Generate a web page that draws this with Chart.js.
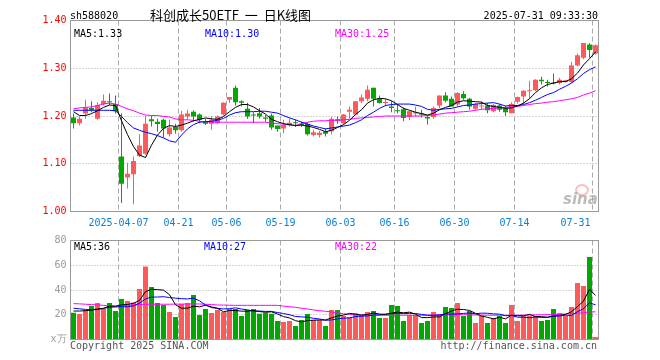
<!DOCTYPE html>
<html><head><meta charset="utf-8">
<script src="https://cdn.jsdelivr.net/npm/chart.js@4.4.1/dist/chart.umd.min.js"></script>
<style>
html,body{margin:0;padding:0;background:#fff;width:660px;height:360px;overflow:hidden;}
#wrap{position:relative;width:660px;height:360px;}
canvas{position:absolute;left:0;}
.t{position:absolute;font-family:"DejaVu Sans Mono",monospace;font-size:10px;line-height:12px;white-space:pre;}
</style></head><body>
<div id="wrap">
<canvas id="k" width="660" height="235" style="top:0"></canvas>
<canvas id="v" width="660" height="130" style="top:230px"></canvas>
<span class="t" style="left:70px;top:10px;color:#000">sh588020</span>
<span class="t" style="left:150px;top:7px;font:13px 'Noto Sans CJK SC';line-height:16px;color:#000">科创成长50ETF  一  日K线图</span>
<span class="t" style="right:62px;top:10px;color:#000">2025-07-31 09:33:30</span>
<span class="t" style="left:74px;top:28px;color:#000">MA5:1.33</span>
<span class="t" style="left:205px;top:28px;color:#0000ff">MA10:1.30</span>
<span class="t" style="left:335px;top:28px;color:#ff00ff">MA30:1.25</span>
<span class="t" style="left:74px;top:241px;color:#000">MA5:36</span>
<span class="t" style="left:204px;top:241px;color:#0000ff">MA10:27</span>
<span class="t" style="left:335px;top:241px;color:#ff00ff">MA30:22</span>
<span class="t" style="left:70px;top:340px;color:#555">Copyright 2025 SINA.COM</span>
<span class="t" style="right:63px;top:340px;color:#555">http://finance.sina.com.cn</span>
<div style="position:absolute;left:575px;top:184px;width:10px;height:8px;border:2px solid rgba(240,150,150,0.6);border-radius:50%;"></div>
<span class="t" style="left:563px;top:191px;font:italic bold 15px 'DejaVu Sans';line-height:16px;color:rgba(160,160,160,0.7)">sina</span>
</div>
<script>
const dates = [
'2025-03-25','2025-03-26','2025-03-27','2025-03-28','2025-03-31','2025-04-01','2025-04-02','2025-04-03',
'2025-04-07','2025-04-08','2025-04-09','2025-04-10','2025-04-11','2025-04-14','2025-04-15','2025-04-16','2025-04-17','2025-04-18',
'2025-04-21','2025-04-22','2025-04-23','2025-04-24','2025-04-25','2025-04-28','2025-04-29','2025-04-30',
'2025-05-06','2025-05-07','2025-05-08','2025-05-09','2025-05-12','2025-05-13','2025-05-14','2025-05-15','2025-05-16',
'2025-05-19','2025-05-20','2025-05-21','2025-05-22','2025-05-23','2025-05-26','2025-05-27','2025-05-28','2025-05-29','2025-05-30',
'2025-06-03','2025-06-04','2025-06-05','2025-06-06','2025-06-09','2025-06-10','2025-06-11','2025-06-12','2025-06-13',
'2025-06-16','2025-06-17','2025-06-18','2025-06-19','2025-06-20','2025-06-23','2025-06-24','2025-06-25','2025-06-26','2025-06-27',
'2025-06-30','2025-07-01','2025-07-02','2025-07-03','2025-07-04','2025-07-07','2025-07-08','2025-07-09','2025-07-10','2025-07-11',
'2025-07-14','2025-07-15','2025-07-16','2025-07-17','2025-07-18','2025-07-21','2025-07-22','2025-07-23','2025-07-24','2025-07-25',
'2025-07-28','2025-07-29','2025-07-30','2025-07-31'];

const tickIndex = [8,18,26,35,45,54,64,74,87];
const tickText = ['2025-04-07','04-21','05-06','05-19','06-03','06-16','06-30','07-14','07-31'];

const open = [1.197,1.185,1.205,1.217,1.194,1.225,1.231,1.225,1.115,1.071,
1.078,1.116,1.121,1.193,1.188,1.192,1.162,1.177,1.170,1.199,
1.209,1.203,1.188,1.184,1.185,1.203,1.234,1.259,1.231,1.215,
1.203,1.206,1.197,1.201,1.180,1.174,1.181,1.187,1.184,1.183,
1.160,1.160,1.167,1.168,1.193,1.185,1.209,1.203,1.231,1.236,
1.259,1.236,1.227,1.220,1.212,1.214,1.198,1.205,1.206,1.198,
1.198,1.222,1.243,1.236,1.224,1.246,1.236,1.215,1.220,1.222,
1.210,1.222,1.216,1.206,1.230,1.241,1.252,1.254,1.276,1.271,
1.270,1.269,1.271,1.271,1.306,1.322,1.350,1.331];
const close = [1.185,1.194,1.218,1.212,1.223,1.232,1.229,1.210,1.058,1.079,
1.106,1.138,1.184,1.189,1.183,1.174,1.176,1.170,1.203,1.205,
1.199,1.192,1.184,1.192,1.199,1.228,1.240,1.229,1.228,1.199,
1.201,1.199,1.194,1.176,1.173,1.181,1.186,1.185,1.181,1.162,
1.166,1.165,1.163,1.194,1.190,1.203,1.213,1.231,1.239,1.255,
1.236,1.227,1.229,1.217,1.210,1.196,1.210,1.208,1.203,1.195,
1.217,1.243,1.232,1.220,1.248,1.237,1.220,1.225,1.222,1.212,
1.223,1.213,1.208,1.225,1.240,1.253,1.254,1.276,1.273,1.269,
1.268,1.276,1.275,1.306,1.327,1.353,1.338,1.348];
const high = [1.205,1.199,1.234,1.231,1.229,1.245,1.247,1.243,1.205,1.102,
1.115,1.162,1.200,1.201,1.194,1.194,1.192,1.184,1.211,1.213,
1.212,1.205,1.194,1.200,1.201,1.229,1.240,1.264,1.233,1.228,
1.208,1.217,1.202,1.205,1.180,1.192,1.194,1.192,1.188,1.187,
1.171,1.169,1.174,1.198,1.199,1.204,1.220,1.231,1.245,1.264,
1.259,1.243,1.236,1.231,1.225,1.218,1.211,1.220,1.213,1.201,
1.220,1.243,1.250,1.241,1.250,1.252,1.238,1.227,1.231,1.227,
1.225,1.225,1.221,1.229,1.241,1.254,1.274,1.277,1.282,1.276,
1.289,1.280,1.276,1.313,1.331,1.353,1.353,1.350];
const low = [1.174,1.180,1.194,1.208,1.192,1.222,1.223,1.205,1.018,1.048,
1.015,1.114,1.119,1.178,1.167,1.155,1.157,1.163,1.167,1.192,
1.188,1.185,1.181,1.171,1.183,1.201,1.227,1.222,1.220,1.194,
1.185,1.195,1.188,1.171,1.167,1.164,1.178,1.177,1.177,1.159,
1.157,1.155,1.157,1.162,1.184,1.183,1.195,1.202,1.227,1.231,
1.220,1.226,1.220,1.208,1.205,1.189,1.191,1.199,1.197,1.182,
1.194,1.217,1.229,1.220,1.220,1.234,1.213,1.212,1.213,1.206,
1.208,1.209,1.200,1.206,1.226,1.225,1.236,1.252,1.266,1.262,
1.266,1.266,1.270,1.269,1.304,1.319,1.322,1.329];

const ma5 = [1.209,1.201,1.201,1.205,1.211,1.218,1.223,1.222,1.190,1.161,
1.136,1.118,1.113,1.139,1.160,1.174,1.180,1.178,1.181,1.185,
1.190,1.193,1.196,1.194,1.193,1.199,1.209,1.218,1.224,1.224,
1.219,1.211,1.204,1.193,1.188,1.184,1.182,1.180,1.181,1.179,
1.176,1.172,1.167,1.170,1.176,1.182,1.191,1.203,1.213,1.227,
1.234,1.237,1.236,1.232,1.224,1.216,1.212,1.208,1.205,1.202,
1.206,1.213,1.218,1.222,1.229,1.232,1.231,1.230,1.229,1.222,
1.220,1.218,1.216,1.217,1.221,1.227,1.236,1.249,1.259,1.266,
1.269,1.272,1.272,1.278,1.290,1.307,1.320,1.334];
const ma10 = [1.212,1.212,1.212,1.212,1.212,1.212,1.212,1.211,1.199,1.186,
1.175,1.170,1.166,1.163,1.159,1.154,1.148,1.145,1.160,1.173,
1.182,1.187,1.188,1.189,1.191,1.195,1.202,1.207,1.209,1.209,
1.209,1.210,1.210,1.208,1.206,1.201,1.196,1.192,1.187,1.183,
1.179,1.176,1.173,1.175,1.177,1.179,1.181,1.186,1.192,1.201,
1.208,1.216,1.222,1.224,1.225,1.225,1.225,1.223,1.220,1.214,
1.212,1.214,1.215,1.216,1.219,1.222,1.223,1.225,1.226,1.227,
1.228,1.225,1.221,1.222,1.222,1.224,1.228,1.233,1.239,1.245,
1.249,1.256,1.262,1.269,1.278,1.289,1.297,1.303];
const ma30 = [1.215,1.217,1.218,1.219,1.222,1.225,1.227,1.225,1.220,1.215,
1.211,1.206,1.202,1.201,1.201,1.199,1.198,1.194,1.192,1.192,
1.191,1.189,1.188,1.187,1.187,1.187,1.187,1.187,1.187,1.187,
1.187,1.187,1.187,1.185,1.184,1.183,1.181,1.180,1.184,1.187,
1.189,1.190,1.190,1.191,1.191,1.192,1.193,1.195,1.196,1.197,
1.198,1.199,1.200,1.200,1.200,1.200,1.200,1.200,1.200,1.201,
1.202,1.204,1.206,1.207,1.208,1.209,1.210,1.212,1.214,1.215,
1.216,1.217,1.218,1.219,1.220,1.222,1.224,1.226,1.227,1.229,
1.230,1.232,1.234,1.236,1.239,1.244,1.248,1.253];

const volume = [21.7,20.6,23.9,27.1,29.5,24.9,29.5,23.1,32.8,31.1,
29.8,40.8,58.9,42.5,29.5,27.9,22.2,18.2,28.7,29.5,
36.0,19.8,24.7,21.4,23.9,22.2,24.7,24.7,19.0,23.9,
24.7,20.9,21.7,20.9,15.0,14.2,15.0,10.9,15.8,20.6,
15.8,15.8,10.9,23.9,23.9,19.0,17.9,21.2,19.8,22.2,
23.1,17.4,17.4,27.9,27.1,15.0,19.8,19.8,13.3,15.0,
22.2,20.6,26.2,25.5,29.5,19.0,23.1,13.3,19.0,13.3,
17.4,19.0,13.3,27.9,15.0,19.0,19.0,19.0,15.0,15.8,
24.7,21.4,19.0,26.2,45.7,43.3,66.7,2.0];
const volMa5 = [23.0,23.0,23.3,23.8,24.6,25.2,27.0,26.8,28.0,28.3,
29.3,31.5,38.7,40.6,40.3,39.9,36.2,28.1,25.3,25.3,
26.9,26.4,27.7,26.3,25.2,22.4,23.4,23.4,22.9,22.9,
23.4,22.6,22.0,22.4,20.6,18.5,17.4,15.2,14.2,15.3,
15.6,15.8,15.8,17.4,19.0,19.7,21.1,20.5,19.7,20.3,
21.4,20.6,20.1,21.3,22.1,21.6,22.1,20.5,17.7,17.7,
18.2,18.3,20.9,23.0,24.5,24.2,23.5,21.1,19.0,17.9,
16.7,17.9,16.7,19.6,19.2,19.2,20.3,18.5,18.5,17.9,
19.0,19.5,20.3,22.4,26.6,31.0,40.5,35.7];
const volMa10 = [25.3,24.8,24.3,24.0,24.3,25.2,26.0,26.3,26.6,26.4,
27.2,29.3,32.8,34.3,34.3,34.6,33.9,33.4,33.0,32.8,
33.4,31.3,27.9,25.8,25.2,24.7,24.9,25.6,24.6,24.0,
22.9,23.0,22.7,22.7,21.8,21.0,20.0,18.6,18.3,18.0,
17.1,16.6,15.5,15.8,16.7,17.2,17.5,18.5,18.9,19.0,
19.8,19.9,20.6,21.0,21.3,20.9,21.1,21.0,20.3,19.6,
19.5,19.8,20.7,20.5,20.7,21.1,21.4,20.8,21.3,21.2,
20.7,20.5,19.2,19.5,18.0,18.0,17.6,18.2,17.8,18.0,
18.8,19.0,19.6,19.4,22.5,24.9,29.7,28.0];
const volMa30 = [29.0,28.8,28.5,28.2,27.9,27.6,27.3,27.1,27.3,27.6,
27.9,28.2,28.5,28.5,28.5,28.5,28.5,28.6,28.6,28.7,
28.7,28.7,28.5,28.2,27.9,27.8,27.7,27.6,27.6,27.6,
27.6,27.6,27.6,27.6,27.6,27.0,26.5,26.0,25.3,24.6,
23.9,23.3,22.8,22.3,21.5,20.8,20.3,19.9,19.8,19.7,
19.7,19.6,19.6,19.6,19.6,19.6,19.6,19.6,19.6,19.7,
19.8,19.9,20.0,20.1,20.1,20.0,19.9,19.8,19.7,19.6,
19.6,19.6,19.6,19.6,19.6,19.7,19.8,19.9,20.0,20.1,
20.1,20.3,20.6,20.9,21.2,21.6,22.4,22.3];

const priceGrid = [1.1,1.2,1.3];
const volGrid = [20,40,60];

const RED = '#ff5a5a', GREEN = '#00a800';
const dirColor = close.map((c,i)=> c >= open[i] ? RED : GREEN);
const MONO = '"DejaVu Sans Mono", monospace';

const framePlugin = {
  id: 'frame',
  beforeDatasetsDraw(chart, args, o) {
    const {ctx, chartArea:a, scales:{x, y}} = chart;
    const half = (x.getPixelForValue(1) - x.getPixelForValue(0)) / 2;
    ctx.save();
    ctx.lineWidth = 1; ctx.strokeStyle = '#aaaaaa';
    ctx.setLineDash([1,2]);
    o.hLines.forEach(v => {
      const py = Math.round(y.getPixelForValue(v) - 0.5) + 0.5;
      ctx.beginPath(); ctx.moveTo(a.left, py); ctx.lineTo(a.right, py); ctx.stroke();
    });
    ctx.setLineDash([5,3]);
    tickIndex.forEach(i => {
      const px = x.getPixelForValue(i) - half;
      ctx.beginPath(); ctx.moveTo(px, a.top); ctx.lineTo(px, a.bottom); ctx.stroke();
    });
    ctx.restore();
  },
  afterDraw(chart, args, o) {
    const {ctx, chartArea:a, scales:{x}} = chart;
    ctx.save();
    ctx.setLineDash([]); ctx.strokeStyle = '#999999'; ctx.lineWidth = 1;
    ctx.strokeRect(a.left, a.top, a.right - a.left, a.bottom - a.top);
    if (o.dateLabels) {
      const half = (x.getPixelForValue(1) - x.getPixelForValue(0)) / 2;
      ctx.font = '10px ' + MONO; ctx.fillStyle = '#0a80d8';
      ctx.textAlign = 'center'; ctx.textBaseline = 'middle';
      tickIndex.forEach((idx, j) => {
        const t = tickText[j];
        const w = ctx.measureText(t).width;
        let cx = x.getPixelForValue(idx) - half;
        if (cx + w/2 > a.right - 8) cx = a.right - 8 - w/2;
        ctx.fillText(t, cx, a.bottom + 12);
      });
    }
    ctx.restore();
  }
};

const lineDs = (label, data, color) => ({
  type: 'line', label, data, borderColor: color, borderWidth: 1,
  pointRadius: 0, fill: false, tension: 0, order: 0
});

new Chart(document.getElementById('k'), {
  type: 'bar',
  data: {
    labels: dates,
    datasets: [
      lineDs('MA5', ma5, '#000000'),
      lineDs('MA10', ma10, '#0000ff'),
      lineDs('MA30', ma30, '#ff00ff'),
      { label: 'body', data: open.map((o,i)=>[o, close[i]]), backgroundColor: dirColor,
        barThickness: 5, minBarLength: 1, grouped: false, inflateAmount: 0, order: 1 },
      { label: 'wick', data: low.map((l,i)=>[l, high[i]]), backgroundColor: dirColor,
        barThickness: 1, grouped: false, inflateAmount: 0, order: 2 }
    ]
  },
  options: {
    responsive: false, animation: false, devicePixelRatio: 1, events: [],
    layout: { padding: { left: 0.5, right: 61.5, top: 20.5, bottom: 23.5 } },
    plugins: { legend: { display: false }, tooltip: { enabled: false },
      frame: { hLines: priceGrid, dateLabels: true } },
    scales: {
      x: { type: 'category', display: false, offset: true },
      y: { position: 'left', min: 1.0, max: 1.4,
        afterFit(s) { s.width = 70; },
        grid: { display: false, drawTicks: false }, border: { display: false },
        ticks: { stepSize: 0.1, color: '#ff0000', padding: 4,
          font: { family: MONO, size: 10 }, callback: v => Number(v).toFixed(2) } }
    }
  },
  plugins: [framePlugin]
});

new Chart(document.getElementById('v'), {
  type: 'bar',
  data: {
    labels: dates,
    datasets: [
      lineDs('MA5', volMa5, '#000000'),
      lineDs('MA10', volMa10, '#0000ff'),
      lineDs('MA30', volMa30, '#ff00ff'),
      { label: 'vol', data: volume, backgroundColor: dirColor, barThickness: 5,
        grouped: false, inflateAmount: 0, order: 1 }
    ]
  },
  options: {
    responsive: false, animation: false, devicePixelRatio: 1, events: [],
    layout: { padding: { left: 0.5, right: 61.5, top: 10.5, bottom: 20.5 } },
    plugins: { legend: { display: false }, tooltip: { enabled: false },
      frame: { hLines: volGrid, dateLabels: false } },
    scales: {
      x: { type: 'category', display: false, offset: true },
      y: { position: 'left', min: 0, max: 80,
        afterFit(s) { s.width = 70; },
        grid: { display: false, drawTicks: false }, border: { display: false },
        ticks: { stepSize: 20, color: '#999999', padding: 4,
          font: { family: MONO, size: 10 }, callback: v => v === 0 ? 'x万' : String(v) } }
    }
  },
  plugins: [framePlugin]
});
</script>
</body></html>
